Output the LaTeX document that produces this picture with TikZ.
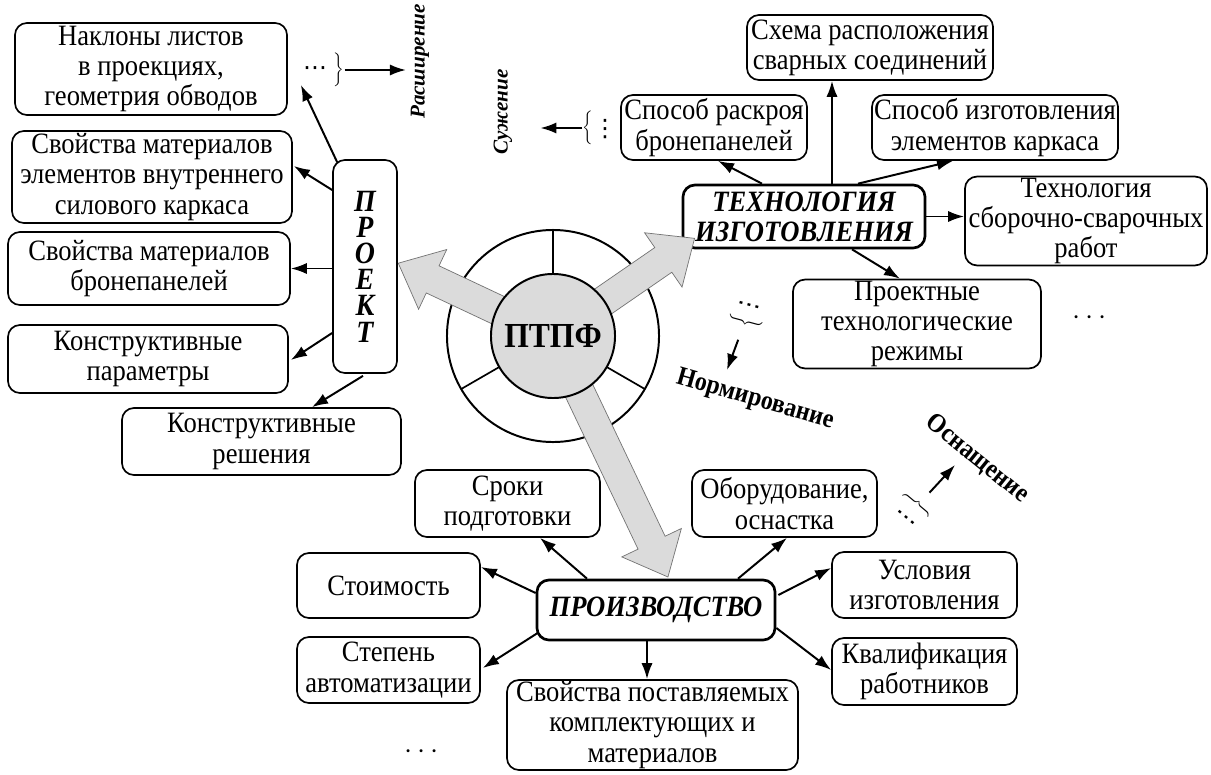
\documentclass[tikz,border=0pt]{standalone}
\usepackage{fontspec}
\setmainfont{Liberation Serif}[FakeStretch=0.9]
\newfontfamily\shirokij{Liberation Serif}
\newfontfamily\dejavu{DejaVu Sans}
\usetikzlibrary{arrows.meta}
\usetikzlibrary{calc}

\begin{document}
\begin{tikzpicture}[x=0.025cm, y=-0.025cm,
        blok/.style={draw, rounded corners=0.3cm, line width=1.2pt, align=center, inner sep=1pt, font=\fontsize{21}{21.5}\selectfont},
        glavn/.style={blok, line width=1.9pt, font=\fontsize{21}{21.5}\selectfont\bfseries\itshape},
        strel/.style={line width=1.4pt, -{Latex[length=0.4cm,width=0.28cm]}},
        pometka/.style={font=\fontsize{15}{15}\selectfont\shirokij\bfseries\itshape},
        skoba/.style={font=\fontsize{20}{20}\selectfont, inner sep=0pt},
        tochki/.style={font=\fontsize{17}{17}\selectfont\dejavu, inner sep=0pt},
        tolst/.style={fill=black!14, draw=black!55, line width=0.5pt}]
        \useasboundingbox (0,0) rectangle (1211,775);

        \coordinate (C) at (553,336);

        % proekt
        \node[blok, minimum width=6.8cm, minimum height=2.3cm] (naklon) at (151,69) {Наклоны листов\\в проекциях,\\геометрия обводов};
        \node[blok, minimum width=7cm, minimum height=2.3cm] (svmat1) at (152,177) {Свойства материалов\\элементов внутреннего\\силового каркаса};
        \node[blok, minimum width=7.05cm, minimum height=1.825cm] (svmat2) at (149,268.5) {Свойства материалов\\бронепанелей};
        \node[blok, minimum width=7cm, minimum height=1.7cm] (konpar) at (148,359) {Конструктивные\\параметры};
        \node[blok, minimum width=6.975cm, minimum height=1.675cm] (konres) at (261.5,441.5) {Конструктивные\\решения};
        \node[blok, minimum width=1.6cm, minimum height=5.325cm, font=\fontsize{22}{18.6}\selectfont\bfseries\itshape] (proekt) at (365,266.5) {П\\Р\\О\\Е\\К\\Т};

        \draw[strel] ($(proekt.north west)+(5,3)$) -- ($(naklon.east)+(13,16)$);
        \draw[strel] ($(proekt.west)+(0,-76.5)$) -- ($(svmat1.east)+(1,-11)$);
        \draw[strel] (proekt.west |- svmat2.east) -- (svmat2.east);
        \draw[strel] ($(proekt.west)+(0,66.5)$) -- ($(konpar.east)+(2,1)$);
        \draw[strel] ($(proekt.south)+(-2,2)$) -- ($(konres.north)+(50.5,0)$);

        % tehnologiya
        \node[blok, minimum width=4.65cm, minimum height=1.625cm] (raskroy) at (714,127.5) {Способ раскроя\\бронепанелей};
        \node[blok, minimum width=6.15cm, minimum height=1.625cm] (shema) at (870,47.5) {Схема расположения\\сварных соединений};
        \node[blok, minimum width=6.15cm, minimum height=1.625cm] (sposizg) at (995,127.5) {Способ изготовления\\элементов каркаса};
        \node[glavn, minimum width=6.05cm, minimum height=1.575cm] (tehn) at (804,216.5) {ТЕХНОЛОГИЯ\\ИЗГОТОВЛЕНИЯ};
        \node[blok, minimum width=6.05cm, minimum height=2.2cm] (sbor) at (1086,221) {Технология\\сборочно-сварочных\\работ};
        \node[blok, minimum width=6.2cm, minimum height=2.2cm] (proektn) at (917,324) {Проектные\\технологические\\режимы};
        \node[font=\fontsize{20}{20}\selectfont] (mnogo1) at (1090,318) {$\cdots$};

        \coordinate (T) at ($(tehn.north)+(28,0)$);
        \draw[strel] ($(tehn.north)+(-42,0)$) -- ($(raskroy.south)+(4,0)$);
        \draw[strel] (T) -- (T |- shema.south);
        \draw[strel] ($(tehn.north)+(54,0)$) -- ($(sposizg.south)+(-42,0)$);
        \draw[strel] (tehn.east) -- (tehn.east -| sbor.west);
        \draw[strel] ($(tehn.south)+(48,0)$) -- ($(proektn.north)+(-17,0)$);

        % proizvodstvo
        \node[glavn, minimum width=5.95cm, minimum height=1.5cm] (proizv) at (656,610) {ПРОИЗВОДСТВО};
        \node[blok, minimum width=4.625cm, minimum height=1.675cm] (sroki) at (507.5,503.5) {Сроки\\подготовки};
        \node[blok, minimum width=4.575cm, minimum height=1.625cm] (stoim) at (388.5,585.5) {Стоимость};
        \node[blok, minimum width=4.575cm, minimum height=1.65cm] (stepen) at (388.5,670) {Степень\\автоматизации};
        \node[blok, minimum width=7.275cm, minimum height=2.25cm] (svpost) at (652.5,725) {Свойства поставляемых\\комплектующих и\\материалов};
        \node[blok, minimum width=4.625cm, minimum height=1.675cm] (obor) at (784.5,503.5) {Оборудование,\\оснастка};
        \node[blok, minimum width=4.625cm, minimum height=1.65cm] (uslov) at (924.5,585) {Условия\\изготовления};
        \node[blok, minimum width=4.625cm, minimum height=1.675cm] (kvalif) at (924.5,671.5) {Квалификация\\работников};
        \node[font=\fontsize{20}{20}\selectfont] (mnogo2) at (422,752) {$\cdots$};

        \coordinate (P) at ($(proizv.south)+(-9,0)$);
        \draw[strel] ($(proizv.north)+(-69,0)$) -- ($(sroki.south)+(32.5,0)$);
        \draw[strel] ($(proizv.west)+(0,-17)$) -- ($(stoim.east)+(0,-18.5)$);
        \draw[strel] ($(proizv.west)+(2,23)$) -- ($(stepen.east)+(2,-2)$);
        \draw[strel] (P) -- (P |- svpost.north);
        \draw[strel] ($(proizv.north)+(82,0)$) -- ($(obor.south)+(2.5,0)$);
        \draw[strel] ($(proizv.east)+(2,-15)$) -- ($(uslov.west)+(0,-17)$);
        \draw[strel] ($(proizv.east)+(0,18)$) -- ($(kvalif.west)+(0,-1.5)$);

        % krug
        \draw[line width=1.4pt, fill=white] (C) circle (2.65cm);
        \foreach \a in {90,210,330}
            \draw[line width=1.2pt] ($(C)+(\a:1.55cm)$) -- ($(C)+(\a:2.65cm)$);
        \foreach \ang/\len in {154.8/171,34.6/172,-64.5/267}
            \draw[tolst, shift={(C)}, rotate=\ang] (0,-15) -- (\len-38,-15) -- (\len-38,-33) -- (\len,0) -- (\len-38,33) -- (\len-38,15) -- (0,15) -- cycle;
        \node[circle, draw, line width=1.4pt, fill=black!14, minimum size=3.1cm, font=\fontsize{25}{25}\selectfont\bfseries] (ptpf) at (C) {ПТПФ};

        % pometki
        \node[pometka, rotate=90] (rassh) at (420,61) {Расширение};
        \node[tochki] (tochR) at (315,71) {⋯};
        \node[skoba] (skobR) at (339,70) {$\Bigg\}$};
        \draw[strel] (skobR.east) -- (skobR.east -| rassh.north);

        \node[pometka, rotate=90] (suzh) at (503,112) {Сужение};
        \node[skoba] (skobS) at (588,128) {$\Bigg\{$};
        \node[tochki] (tochS) at (605,129) {⋮};
        \draw[strel] (skobS.west) -- ++(-42,0);

        \begin{scope}[shift={(747,315)}, rotate=75, transform shape]
            \node[skoba] (skobN) at (-7,0) {$\Bigg\{$};
            \node[tochki] (tochN) at (10,0) {⋮};
        \end{scope}
        \node[font=\fontsize{19}{19}\selectfont\bfseries, rotate=-16] (norm) at (755,400) {Нормирование};
        \draw[strel] ($(skobN)+(-7,18)$) -- ($(norm)+(-28,-30)$);

        \begin{scope}[shift={(913,510)}, rotate=-130, transform shape]
            \node[skoba] (skobO) at (-7,0) {$\Bigg\{$};
            \node[tochki] (tochO) at (10,0) {⋮};
        \end{scope}
        \node[font=\fontsize{19}{19}\selectfont\bfseries, rotate=-39] (osn) at (977,459) {Оснащение};
        \draw[strel] ($(skobO)+(12,-12)$) -- ($(osn)+(-22,6)$);
\end{tikzpicture}
\end{document}
